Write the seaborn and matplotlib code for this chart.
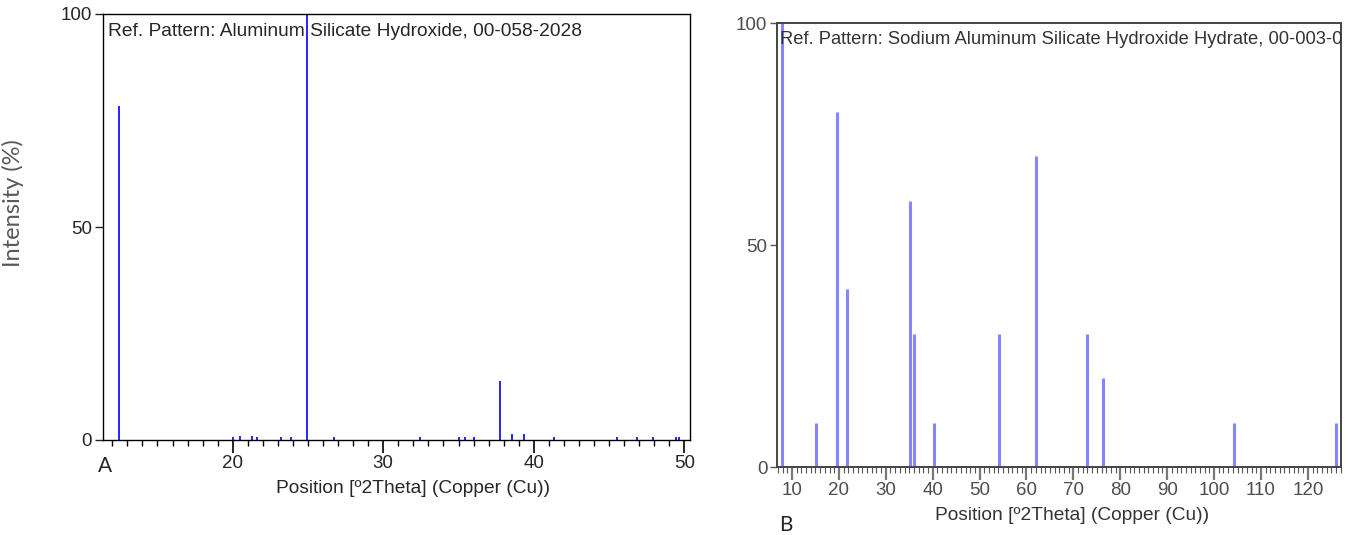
import matplotlib
matplotlib.use("Agg")
import matplotlib.pyplot as plt
from matplotlib.ticker import MultipleLocator, FixedLocator
import seaborn as sns
import numpy as np

# ---- Data: panel A (Aluminum Silicate Hydroxide, 00-058-2028) ----
a_pos = [12.44, 20.0, 20.45, 21.29, 21.64, 23.2, 23.89, 24.93, 26.76, 32.47,
         35.0, 35.42, 36.05, 37.75, 38.53, 39.33, 41.33, 45.55, 46.87, 47.91,
         49.47, 49.64]
a_int = [78.5, 0.8, 1.0, 1.0, 0.7, 0.7, 0.7, 100, 0.7, 0.7,
         0.7, 0.7, 0.8, 13.8, 1.4, 1.4, 0.7, 0.7, 0.7, 0.7,
         0.8, 0.8]

# ---- Data: panel B (Sodium Aluminum Silicate Hydroxide Hydrate, 00-003-0...) ----
b_pos = [7.87, 15.1, 19.7, 21.83, 35.17, 36.09, 40.34, 54.1, 62.0, 72.9, 76.3, 104.2, 126.0]
b_int = [100, 10, 80, 40, 60, 30, 10, 30, 70, 30, 20, 10, 10]

a_xticks = [20, 30, 40, 50]
b_xticks = [10, 20, 30, 40, 50, 60, 70, 80, 90, 100, 110, 120]
yticks = [0, 50, 100]

title_a = "Ref. Pattern: Aluminum Silicate Hydroxide, 00-058-2028"
title_b = "Ref. Pattern: Sodium Aluminum Silicate Hydroxide Hydrate, 00-003-0052"
xlabel = "Position [º2Theta] (Copper (Cu))"
ylabel = "Intensity (%)"

sns.set_style("ticks")
plt.rcParams['font.family'] = ['Liberation Sans', 'DejaVu Sans']

fig = plt.figure(figsize=(13.51, 5.35), dpi=100)
W, H = 1351, 535

def axes_px(l, r, t, b):
    return fig.add_axes([l / W, 1 - b / H, (r - l) / W, (b - t) / H])

axA = axes_px(103, 690, 14, 440)
axB = axes_px(777, 1341, 23, 467)

FS = 13.8

# Panel A
axA.vlines(a_pos, 0, a_int, color="#0000ff", linewidth=1.2)
axA.set_xlim(11.38, 50.38)
axA.set_ylim(0, 100)
axA.xaxis.set_major_locator(FixedLocator(a_xticks))
axA.xaxis.set_minor_locator(MultipleLocator(1))
axA.yaxis.set_major_locator(FixedLocator(yticks))
axA.tick_params(axis="x", which="major", length=9, width=1.2, labelsize=13.5, pad=2, color="black")
axA.tick_params(axis="x", which="minor", length=4, width=1.0, color="black")
axA.tick_params(axis="y", which="major", length=6, width=1.0, labelsize=13.5, pad=2)
for s in axA.spines.values():
    s.set_linewidth(1.0)
    s.set_color("black")
axA.text(0.008, 0.978, title_a, transform=axA.transAxes, ha="left", va="top", fontsize=FS)
axA.set_xlabel(xlabel, fontsize=FS)
axA.xaxis.set_label_coords(0.528, -0.095)
axA.set_ylabel(ylabel, fontsize=17, color="#595959", family=["Lato", "DejaVu Sans"])
axA.yaxis.set_label_coords(-0.135, 0.556)
fig.text(98 / W, 1 - 466 / H, "A", fontsize=15, family=["Lato", "DejaVu Sans"], ha="left", va="center")

# Panel B
grey = "#4d4d4d"
axB.vlines(b_pos, 0, b_int, color="#8585ff", linewidth=2.2)
axB.set_xlim(6.8, 127.07)
axB.set_ylim(0, 100)
axB.xaxis.set_major_locator(FixedLocator(b_xticks))
axB.xaxis.set_minor_locator(MultipleLocator(1))
axB.yaxis.set_major_locator(FixedLocator(yticks))
axB.tick_params(axis="x", which="major", length=9, width=1.6, labelsize=13.5, pad=2, color="#777777", labelcolor=grey)
axB.tick_params(axis="x", which="minor", length=4, width=0.8, color="#555555")
axB.tick_params(axis="y", which="major", length=5, width=1.0, labelsize=13.5, pad=2, color="#555555", labelcolor=grey)
for s in axB.spines.values():
    s.set_linewidth(1.4)
    s.set_color("#444444")
tb = axB.text(0.005, 0.982, title_b, transform=axB.transAxes, ha="left", va="top", fontsize=13.2, color="#333333")
tb.set_clip_box(axB.bbox)
tb.set_clip_on(True)
axB.set_xlabel(xlabel, fontsize=FS, color="#333333")
axB.xaxis.set_label_coords(0.523, -0.09)
fig.text(779 / W, 1 - 525 / H, "B", fontsize=15, family=["Lato", "DejaVu Sans"], ha="left", va="center")

fig.savefig("out.png", dpi=100)
